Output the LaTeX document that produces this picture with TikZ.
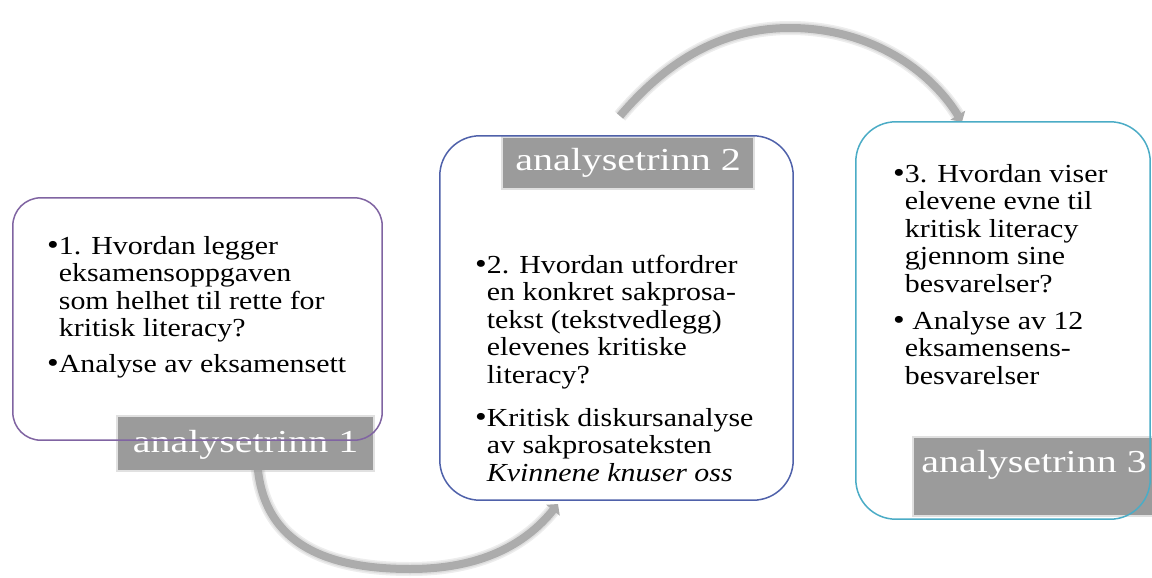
\documentclass[tikz,border=0pt]{standalone}
\usepackage{fontspec}
\setmainfont[FakeStretch=1.15]{Liberation Serif}
\newfontfamily\labfont[FakeStretch=1.25]{Liberation Serif}
\usetikzlibrary{arrows.meta}
\definecolor{cboxa}{RGB}{128,100,162}
\definecolor{cboxb}{RGB}{79,97,170}
\definecolor{cboxc}{RGB}{75,172,198}
\definecolor{clab}{RGB}{155,155,155}
\definecolor{carc}{RGB}{172,172,172}
\newlength\bulw
\newcommand\bulmark{{\fontsize{29}{29}\selectfont\textbullet}}
\newcommand\bitem[1]{\par\settowidth\bulw{\bulmark}\hangindent=\bulw\hangafter=1\noindent\bulmark#1\par}
\newcommand\btext[1]{\parbox[t]{400pt}{\fontsize{26}{27.6}\selectfont\parindent=0pt\parskip=0pt #1}}
\tikzset{
  boxfill/.style={rectangle, fill=white, inner sep=0pt},
  boxline/.style={line width=1.5pt, rounded corners=#1},
  lab/.style={rectangle, fill=clab, text=white, inner sep=0pt, anchor=base,
    draw=clab, draw opacity=0.3, line width=4pt,
    font=\labfont\fontsize{32}{32}\selectfont},
  body/.style={inner sep=0pt, anchor=base west, align=left},
  arcblur/.style={draw=carc, line width=#1, opacity=0.22, shorten >=7pt},
  arcmain/.style={draw=carc, line width=8pt, -{Triangle[length=8pt,width=17pt]}},
}
\begin{document}
\begin{tikzpicture}[x=1pt,y=-1pt]
\useasboundingbox (0,0) rectangle (1152,578);
% connector coordinates
\coordinate (a1s) at (257,452);
\coordinate (a1m) at (410,569);
\coordinate (a1e) at (558,504);
\coordinate (a2s) at (620,116);
\coordinate (a2m) at (790,28);
\coordinate (a2e) at (962,122);
% arcs
\foreach \w in {14pt,11pt}{
  \draw[arcblur=\w] (a1s) .. controls (257,540) and (320,569) .. (a1m) .. controls (480,569) and (525,545) .. (a1e);
  \draw[arcblur=\w] (a2s) .. controls (665,63) and (720,28) .. (a2m) .. controls (870,28) and (930,70) .. (a2e);
}
\draw[arcmain] (a1s) .. controls (257,540) and (320,569) .. (a1m) .. controls (480,569) and (525,545) .. (a1e);
\draw[arcmain] (a2s) .. controls (665,63) and (720,28) .. (a2m) .. controls (870,28) and (930,70) .. (a2e);
% boxes (fill)
\node[boxfill, minimum width=369pt, minimum height=242pt] (b1) at (197.5,319) {};
\node[boxfill, minimum width=353pt, minimum height=364pt] (b2) at (616.5,318) {};
\node[boxfill, minimum width=294pt, minimum height=397pt] (b3) at (1003,320.5) {};
% texts
\node[body] (t1) at (47,254) {\btext{%
\bitem{1. Hvordan legger\newline eksamensoppgaven\newline som helhet til rette for\newline kritisk literacy?}
\vspace{8.5pt}
\bitem{Analyse av eksamensett}}};
\node[body] (t2) at (475,273) {\btext{%
\bitem{2. Hvordan utfordrer\newline en konkret sakprosa-\newline tekst (tekstvedlegg)\newline elevenes kritiske\newline literacy?}
\vspace{15pt}
\bitem{Kritisk diskursanalyse\newline av sakprosateksten\newline \textit{Kvinnene knuser oss}}}};
\node[body] (t3) at (893,182) {\btext{%
\bitem{3. Hvordan viser\newline elevene evne til\newline kritisk literacy\newline gjennom sine\newline besvarelser?}
\vspace{9pt}
\bitem{\ Analyse av 12\newline eksamensens-\newline besvarelser}}};
% labels
\node[lab, minimum width=255pt, text height=35pt, text depth=18pt] (l1) at (245.5,452) {analysetrinn 1};
\node[lab, minimum width=250pt, text height=32pt, text depth=18pt] (l2) at (628,170) {analysetrinn 2};
\node[lab, minimum width=240pt, text height=34pt, text depth=43pt] (l3) at (1034,472) {analysetrinn 3};
% box borders (drawn over labels)
\draw[boxline=28pt, cboxa] (b1.north west) rectangle (b1.south east);
\draw[boxline=40pt, cboxb] (b2.north west) rectangle (b2.south east);
\draw[boxline=40pt, cboxc] (b3.north west) rectangle (b3.south east);
\end{tikzpicture}
\end{document}
